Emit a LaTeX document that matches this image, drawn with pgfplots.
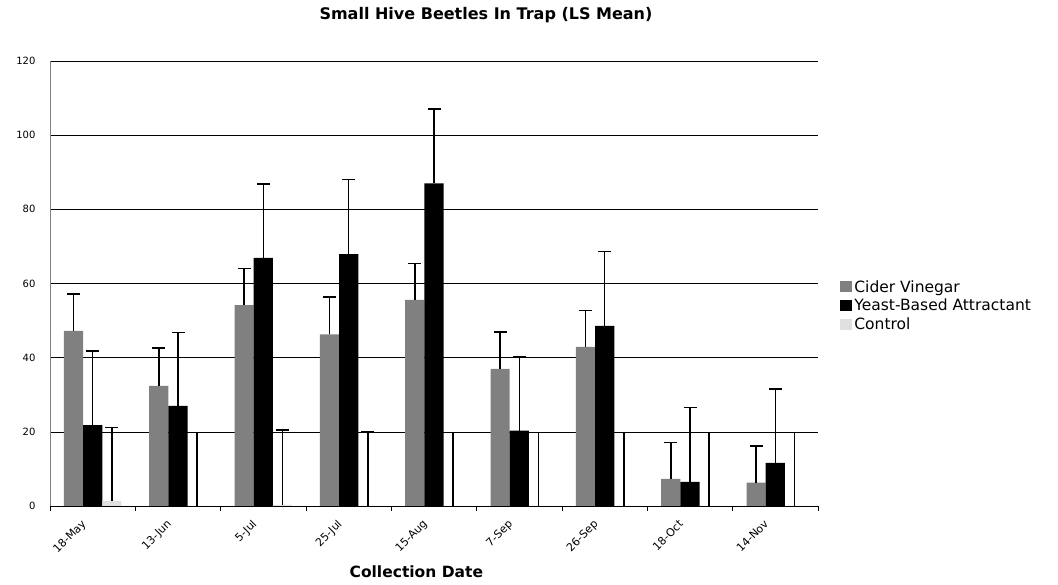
\documentclass[border=0pt]{standalone}
\usepackage{fontspec}
\setmainfont{DejaVu Sans}
\usepackage{pgfplots}
\usepackage{pgfplotstable}
\pgfplotsset{compat=1.18}
\definecolor{cvgray}{HTML}{808080}
\definecolor{ctrl}{HTML}{E0E0E0}
\pgfplotstableread{
x cv cve ya yae c ce
0 47.2 9.9 21.8 20.0 1.4 19.8
1 32.4 10.2 27.0 19.8 0 19.8
2 54.2 9.8 66.9 20.0 0.3 20.2
3 46.3 10.1 67.9 20.1 0 20.1
4 55.6 9.8 87.0 20.1 0 19.8
5 37.0 10.0 20.3 19.9 0 19.8
6 42.9 9.8 48.6 20.0 0 19.8
7 7.3 9.8 6.5 20.1 0 19.8
8 6.3 9.8 11.6 20.0 0 19.8
}\datatable
\begin{document}
\begin{tikzpicture}
\path[use as bounding box] (-50pt,-79pt) rectangle (1008pt,506pt);
\begin{axis}[
  at={(0,0)}, anchor=south west,
  scale only axis, width=768pt, height=445pt,
  ybar=0pt, bar width=0.225,
  xmin=-0.5, xmax=8.5, ymin=0, ymax=120,
  axis x line*=bottom, axis y line*=left,
  x axis line style={black, line width=0.8pt, -},
  y axis line style={cvgray, line width=0.8pt, -},
  ymajorgrids, grid style={black, line width=0.6pt},
  ytick={0,20,...,120},
  xtick={0,...,8},
  xticklabels={18-May,13-Jun,5-Jul,25-Jul,15-Aug,7-Sep,26-Sep,18-Oct,14-Nov},
  minor xtick={-0.5,0.5,...,8.5},
  major tick length=0pt, minor tick length=5pt,
  tick align=outside,
  minor tick style={black, line width=0.8pt},
  /pgf/number format/assume math mode=true,
  yticklabel style={font=\fontsize{10}{12}\selectfont, xshift=-11pt},
  xticklabel style={font=\fontsize{11}{13}\selectfont, xshift=-12pt, yshift=-8pt, rotate=45, anchor=north east},
  xlabel={\bfseries Collection Date},
  xlabel style={font=\fontsize{15.5}{18}\selectfont, at={(axis description cs:0.477,-0.148)}, anchor=center},
  legend style={at={(1.025,0.45)}, anchor=west, draw=none, fill=none,
    font=\fontsize{15.5}{18}\selectfont, row sep=1.5pt,
    /tikz/every even column/.append style={column sep=1pt}},
  legend image code/.code={\fill[#1] (0pt,-5pt) rectangle (12pt,6pt);},
  legend cell align=left,
  error bars/y dir=plus, error bars/y explicit,
  error bars/error bar style={black, line width=1.6pt},
  error bars/error mark options={black, line width=1.6pt, mark size=6.5pt, rotate=90},
]
\addplot[fill=cvgray, draw=none] table[x=x, y=cv, y error=cve] {\datatable};
\addplot[fill=black, draw=none] table[x=x, y=ya, y error=yae] {\datatable};
\addplot[fill=ctrl, draw=none] table[x=x, y=c, y error=ce] {\datatable};
\legend{Cider Vinegar, Yeast-Based Attractant, Control}
\end{axis}
\node[font=\fontsize{16}{18}\selectfont\bfseries] at (436pt,491pt) {Small Hive Beetles In Trap (LS Mean)};
\end{tikzpicture}
\end{document}
